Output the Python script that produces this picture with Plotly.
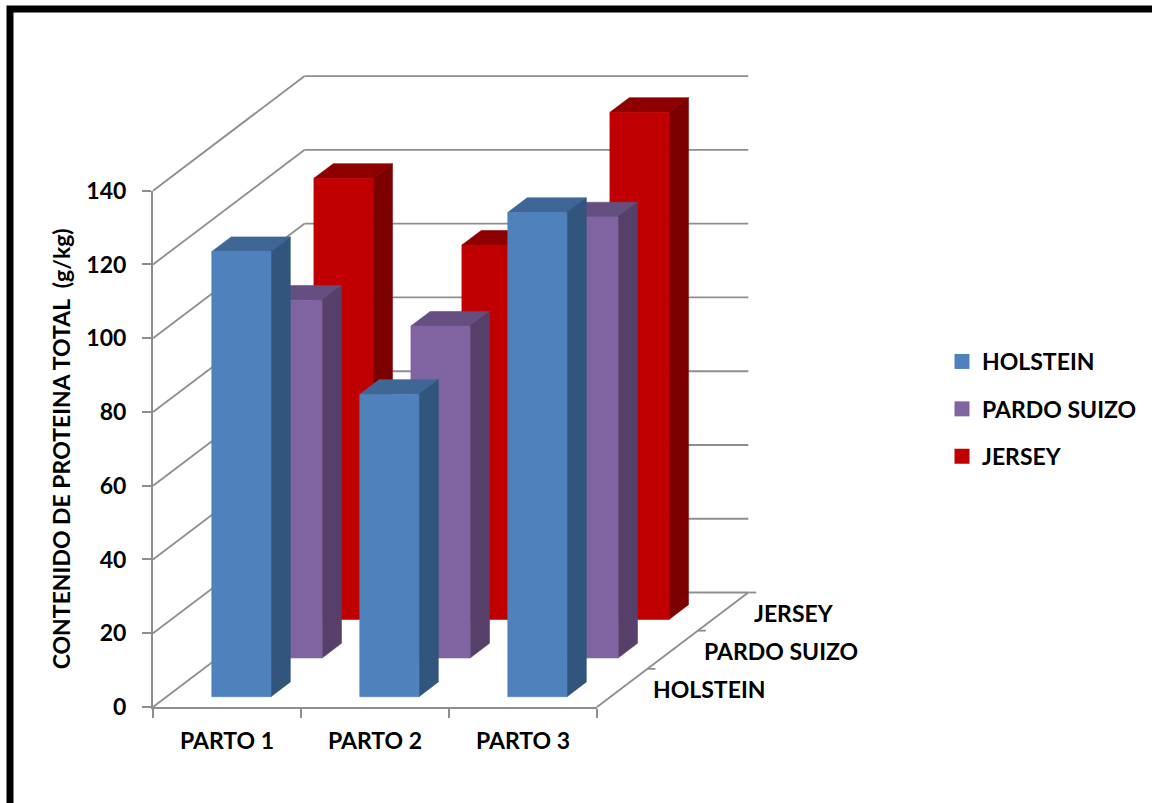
import plotly.graph_objects as go

# Chart data
partos = ["PARTO 1", "PARTO 2", "PARTO 3"]
razas = ["HOLSTEIN", "PARDO SUIZO", "JERSEY"]
holstein = [120.7, 82.0, 131.3]
pardo_suizo = [97.0, 90.0, 119.6]
jersey = [119.6, 101.5, 137.5]
y_ticks = [0, 20, 40, 60, 80, 100, 120, 140]

series_values = [holstein, pardo_suizo, jersey]
front_colors = ["#4F81BD", "#8064A2", "#C00000"]
top_colors = ["#3F6795", "#654F80", "#8E0000"]
side_colors = ["#32557D", "#563F69", "#7C0000"]

GRID = "#8E8E8E"
FONT = "Lato"
TEXT_SIZE = 23

# Page geometry of the front plane of the chart, in pixels
W, H = 1152, 803
LEFT, RIGHT, TOP, BOTTOM = 153, 597, 190.7, 707
CAT_PX = (RIGHT - LEFT) / 3
UNIT_PX = (BOTTOM - TOP) / 140

# Oblique projection: full depth of the floor moves a point right and up
DEPTH_X = 151.3 / CAT_PX
DEPTH_Y = 114.5 / UNIT_PX

# Bar footprint in category units and depth fractions
BAR_LEFT = 0.305
BAR_WIDTH = 0.40
ROW_FRONT = [0.09, 0.428, 0.765]
BAR_DEPTH = 0.128


def project(x, value, depth):
    return x + depth * DEPTH_X, value + depth * DEPTH_Y


def polygon(points):
    xs, ys = [], []
    for x, v, d in points:
        px, py = project(x, v, d)
        xs.append(px)
        ys.append(py)
    xs += [xs[0], None]
    ys += [ys[0], None]
    return xs, ys


def faces(values, row):
    d0 = ROW_FRONT[row]
    d1 = d0 + BAR_DEPTH
    front, side, top = ([], []), ([], []), ([], [])
    for cat, v in enumerate(values):
        x0 = cat + BAR_LEFT
        x1 = x0 + BAR_WIDTH
        for store, pts in (
            (front, [(x0, 0, d0), (x1, 0, d0), (x1, v, d0), (x0, v, d0)]),
            (side, [(x1, 0, d0), (x1, 0, d1), (x1, v, d1), (x1, v, d0)]),
            (top, [(x0, v, d0), (x1, v, d0), (x1, v, d1), (x0, v, d1)]),
        ):
            xs, ys = polygon(pts)
            store[0].extend(xs)
            store[1].extend(ys)
    return front, side, top


def segments(pairs):
    xs, ys = [], []
    for (x0, v0, d0), (x1, v1, d1) in pairs:
        a = project(x0, v0, d0)
        b = project(x1, v1, d1)
        xs += [a[0], b[0], None]
        ys += [a[1], b[1], None]
    return xs, ys


fig = go.Figure()

# Legend entries live on the axes that carry the ticks
for name, color in zip(razas, front_colors):
    fig.add_trace(go.Scatter(x=[None], y=[None], mode="markers", name=name, legendgroup=name,
                             marker=dict(symbol="square", size=15, color=color)))

# Walls and floor edge behind the bars, on the page-wide axes sharing the same scale
wall_pairs = []
for t in y_ticks:
    wall_pairs.append(((0, t, 0), (0, t, 1)))
    wall_pairs.append(((0, t, 1), (3, t, 1)))
wall_pairs.append(((3, 0, 0), (3, 0, 1)))
tick_px = 8 / CAT_PX
for k in range(1, 4):
    wall_pairs.append(((3, 0, k / 3), (3 + tick_px, 0, k / 3)))
gx, gy = segments(wall_pairs)
fig.add_trace(go.Scatter(x=gx, y=gy, xaxis="x2", yaxis="y2", mode="lines", showlegend=False,
                         hoverinfo="skip", line=dict(color=GRID, width=1.8)))

# Bars, back row first so that nearer rows cover it
for row in (2, 1, 0):
    front, side, top = faces(series_values[row], row)
    for (xs, ys), color, part in (
        (top, top_colors[row], "top"),
        (side, side_colors[row], "side"),
        (front, front_colors[row], "front"),
    ):
        fig.add_trace(go.Scatter(x=xs, y=ys, xaxis="x2", yaxis="y2", mode="lines", fill="toself",
                                 fillcolor=color, line=dict(color=color, width=0.6),
                                 showlegend=False, hoverinfo="skip", name=f"{razas[row]} {part}"))

# Row names beside the depth axis
annotations = []
for row, name in enumerate(razas):
    px, py = project(3, 0, (row + 0.5) / 3)
    annotations.append(dict(x=px, y=py, xref="x2", yref="y2", text=f"<b>{name}</b>", showarrow=False,
                            xanchor="left", xshift=29, yshift=-1,
                            font=dict(family=FONT, size=TEXT_SIZE, color="black")))

bold = dict(family=FONT, size=TEXT_SIZE, weight="bold", color="black")

fig.update_layout(
    width=W,
    height=H,
    margin=dict(l=0, r=0, t=0, b=0, pad=0),
    paper_bgcolor="white",
    plot_bgcolor="rgba(0,0,0,0)",
    font=dict(family=FONT, size=TEXT_SIZE, color="black"),
    annotations=annotations,
    showlegend=True,
    legend=dict(x=942 / W, xanchor="left", y=1 - 340 / H, yanchor="top", tracegroupgap=14.5,
                font=bold, bgcolor="rgba(0,0,0,0)"),
    # Page frame, running off the right and bottom edges
    shapes=[dict(type="rect", xref="paper", yref="paper", x0=10 / W, x1=1180 / W,
                 y0=1 - 830 / H, y1=1 - 9 / H, line=dict(color="black", width=7),
                 fillcolor="rgba(0,0,0,0)", layer="above")],
    xaxis=dict(
        domain=[LEFT / W, RIGHT / W], range=[0, 3], tickmode="array", tickvals=[0.5, 1.5, 2.5],
        ticktext=partos, ticks="", showgrid=False, zeroline=False, showline=True, linecolor=GRID,
        linewidth=2, ticklabelstandoff=12, tickfont=bold, automargin=False,
        minor=dict(ticks="outside", tickmode="linear", tick0=0, dtick=1, ticklen=9, tickwidth=2,
                   tickcolor=GRID, showgrid=False),
    ),
    yaxis=dict(
        domain=[1 - BOTTOM / H, 1 - TOP / H], range=[0, 140], tickmode="array", tickvals=y_ticks,
        ticks="outside", ticklen=9, tickwidth=2, tickcolor=GRID, showgrid=False, zeroline=False,
        showline=True, linecolor=GRID, linewidth=2, ticklabelstandoff=11, tickfont=bold,
        automargin=False,
        title=dict(text="CONTENIDO DE PROTEINA TOTAL \u00a0(g/kg)", standoff=9, font=bold),
    ),
    xaxis2=dict(domain=[0, 1], range=[-LEFT / CAT_PX, (W - LEFT) / CAT_PX], visible=False,
                anchor="y2", fixedrange=True, automargin=False),
    yaxis2=dict(domain=[0, 1], range=[-(H - BOTTOM) / UNIT_PX, BOTTOM / UNIT_PX], visible=False,
                anchor="x2", fixedrange=True, automargin=False),
)

fig.write_html("out.html")
